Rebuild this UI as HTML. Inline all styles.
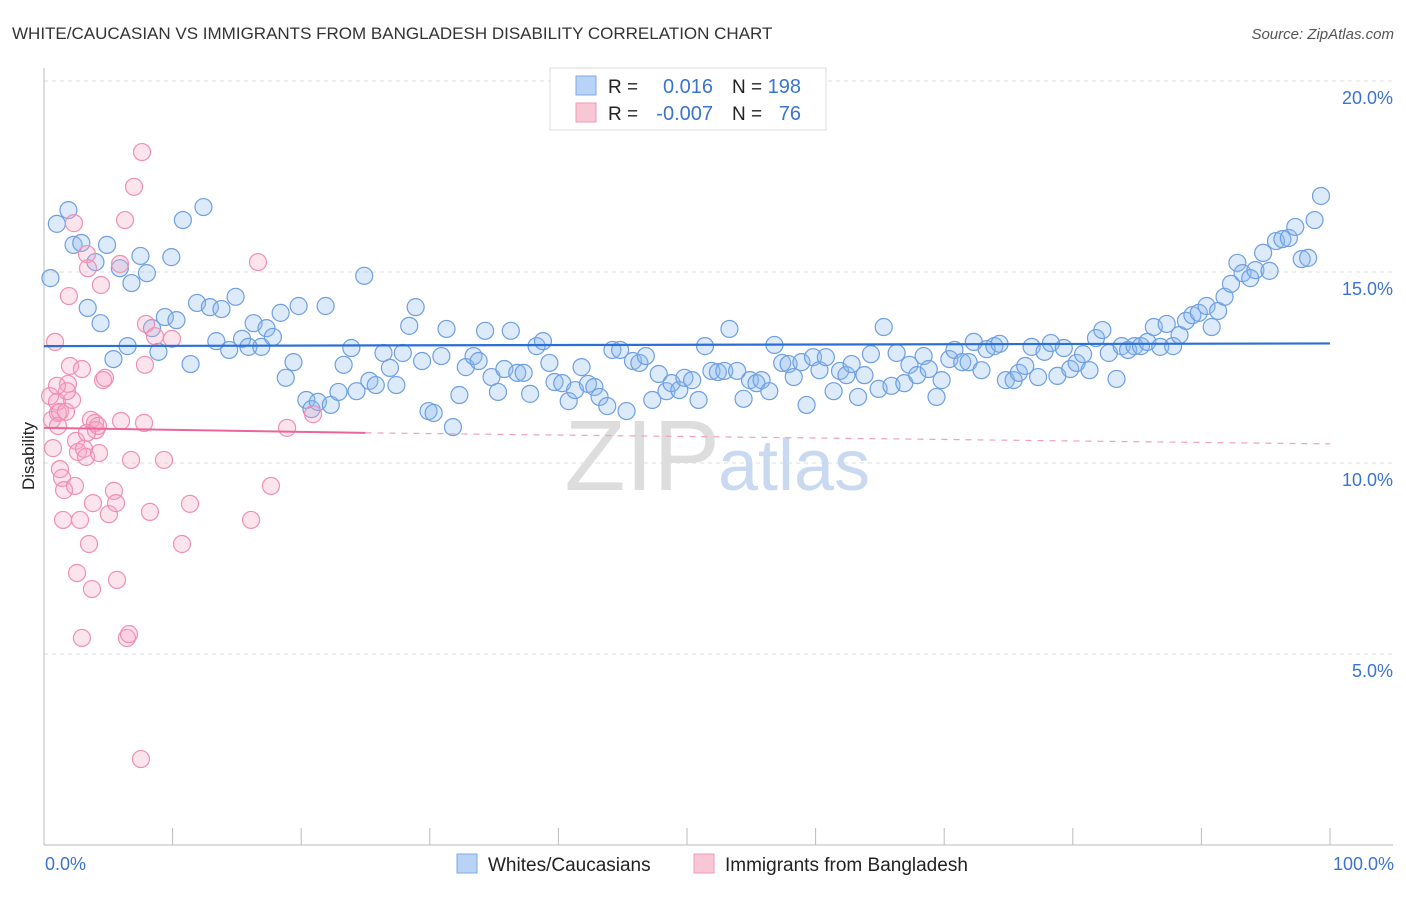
<!DOCTYPE html>
<html><head><meta charset="utf-8"><style>
body{margin:0;background:#fff;font-family:"Liberation Sans",sans-serif}
svg text{font-family:"Liberation Sans",sans-serif}
</style></head><body>
<svg id="chart" width="1406" height="892" viewBox="0 0 1406 892" xmlns="http://www.w3.org/2000/svg">
<text x="12" y="39" font-size="17" fill="#333">WHITE/CAUCASIAN VS IMMIGRANTS FROM BANGLADESH DISABILITY CORRELATION CHART</text>
<text x="1394" y="39" font-size="15" fill="#555" font-style="italic" text-anchor="end">Source: ZipAtlas.com</text>
<g id="grid"></g>
<g id="axes"></g>
<text x="720" y="490" font-size="100" fill="#ddd" text-anchor="end" font-family="Liberation Serif">ZIP</text>
<text x="718" y="490" font-size="72" fill="#c9d9ef">atlas</text>
<g id="pts"></g>
<g id="trend"></g>
<text transform="translate(34,456) rotate(-90)" font-size="17" fill="#222" text-anchor="middle">Disability</text>
<text x="45" y="870" font-size="18" fill="#3b73d0">0.0%</text>
<text x="1394" y="870" font-size="18" fill="#3b73d0" text-anchor="end">100.0%</text>
<g>
<rect x="550" y="68" width="276" height="62" fill="#fff" stroke="#ddd"/>
<rect x="576" y="76" width="20" height="19" fill="#b8d3f5" stroke="#7fa9e6"/>
<rect x="576" y="103" width="20" height="19" fill="#f9c6d6" stroke="#ef9ab7"/>
<text x="608" y="93" font-size="19" fill="#222">R =</text><text x="713" y="93" font-size="20" fill="#3b73d0" text-anchor="end">0.016</text>
<text x="732" y="93" font-size="19" fill="#222">N =</text><text x="801" y="93" font-size="20" fill="#3b73d0" text-anchor="end">198</text>
<text x="608" y="120" font-size="19" fill="#222">R =</text><text x="713" y="120" font-size="20" fill="#3b73d0" text-anchor="end">-0.007</text>
<text x="732" y="120" font-size="19" fill="#222">N =</text><text x="801" y="120" font-size="20" fill="#3b73d0" text-anchor="end">76</text>
</g>
<g>
<rect x="457" y="854" width="20" height="19" fill="#b8d3f5" stroke="#7fa9e6"/>
<text x="488" y="871" font-size="19" fill="#222">Whites/Caucasians</text>
<rect x="694" y="854" width="20" height="19" fill="#f9c6d6" stroke="#ef9ab7"/>
<text x="725" y="871" font-size="19" fill="#222">Immigrants from Bangladesh</text>
</g>
</svg>
<script>
const yTicks=[5,10,15,20];
const yTickLabels=["5.0%","10.0%","15.0%","20.0%"];
const xTicks=[0,10,20,30,40,50,60,70,80,90,100];
const blueX=[0.5,1.0,1.9,2.3,2.9,3.4,4.0,4.4,4.9,5.4,5.9,6.5,6.8,7.5,8.0,8.4,8.9,9.4,9.9,10.3,10.8,11.4,11.9,12.4,12.9,13.4,13.8,14.4,14.9,15.4,15.9,16.3,16.9,17.3,17.8,18.4,18.8,19.4,19.8,20.4,20.8,21.3,21.9,22.3,22.9,23.3,23.9,24.3,24.9,25.3,25.8,26.4,26.9,27.4,27.9,28.4,28.9,29.4,29.9,30.3,30.9,31.3,31.8,32.3,32.8,33.4,33.8,34.3,34.8,35.3,35.8,36.3,36.8,37.3,37.8,38.3,38.8,39.3,39.7,40.3,40.8,41.3,41.8,42.3,42.8,43.2,43.8,44.2,44.8,45.3,45.8,46.3,46.8,47.3,47.8,48.4,48.8,49.4,49.8,50.4,50.9,51.4,51.9,52.4,52.9,53.3,53.9,54.4,54.9,55.4,55.8,56.4,56.8,57.4,57.9,58.3,58.9,59.3,59.8,60.3,60.8,61.4,61.9,62.4,62.8,63.3,63.8,64.3,64.9,65.3,65.9,66.3,66.9,67.3,67.9,68.4,68.8,69.4,69.8,70.4,70.8,71.4,71.9,72.3,72.9,73.3,73.9,74.3,74.8,75.4,75.8,76.3,76.8,77.3,77.8,78.3,78.8,79.3,79.8,80.3,80.8,81.3,81.8,82.3,82.8,83.4,83.8,84.3,84.8,85.3,85.8,86.3,86.8,87.3,87.8,88.3,88.8,89.3,89.8,90.4,90.8,91.3,91.8,92.3,92.8,93.2,93.8,94.2,94.8,95.3,95.8,96.3,96.8,97.3,97.8,98.3,98.8,99.3];
const blueY=[14.84,16.26,16.62,15.71,15.76,14.06,15.26,13.66,15.71,12.72,15.10,13.06,14.71,15.42,14.97,13.53,12.91,13.82,15.39,13.74,16.36,12.59,14.19,16.70,14.08,13.19,14.03,12.96,14.35,13.25,13.04,13.66,13.04,13.53,13.30,13.93,12.23,12.64,14.11,11.65,11.41,11.60,14.11,11.52,11.86,12.57,13.01,11.88,14.90,12.15,12.04,12.88,12.49,12.04,12.88,13.59,14.08,12.67,11.36,11.31,12.80,13.51,10.94,11.78,12.51,12.80,12.67,13.46,12.25,11.86,12.46,13.46,12.36,12.36,11.81,13.06,13.19,12.62,12.12,12.09,11.62,11.91,12.51,12.07,11.99,11.73,11.49,12.96,12.96,11.36,12.67,12.62,12.80,11.65,12.33,11.88,12.09,11.91,12.23,12.17,11.65,13.06,12.41,12.38,12.41,13.51,12.41,11.68,12.17,12.09,12.17,11.88,13.09,12.62,12.59,12.25,12.64,11.52,12.77,12.43,12.77,11.88,12.41,12.30,12.59,11.73,12.30,12.85,11.94,13.56,12.02,12.88,12.09,12.57,12.30,12.80,12.46,11.73,12.17,12.72,12.96,12.64,12.64,13.17,12.43,12.98,13.06,13.12,12.17,12.17,12.36,12.54,13.04,12.25,12.91,13.14,12.28,13.01,12.46,12.62,12.85,12.43,13.27,13.48,12.88,12.20,13.06,12.96,13.06,13.06,13.17,13.56,13.04,13.64,13.06,13.35,13.72,13.87,13.93,14.11,13.56,13.98,14.35,14.69,15.24,14.97,14.84,15.05,15.50,15.03,15.81,15.86,15.89,16.18,15.34,15.37,16.36,16.99];
const pinkX=[0.47,0.62,0.70,0.86,1.01,1.09,1.24,1.40,1.56,1.71,1.87,1.94,2.02,2.18,2.33,2.49,2.57,2.64,2.80,2.95,2.95,3.11,3.27,3.34,3.42,3.50,3.65,3.73,3.81,3.97,4.04,4.28,4.43,4.59,4.74,5.05,5.44,5.60,5.68,5.91,5.99,6.30,6.45,6.61,6.77,7.00,7.62,7.78,7.85,7.93,8.24,8.63,9.33,9.95,10.73,11.35,16.10,16.64,17.65,18.90,20.92,7.54,4.20,3.34,1.48,2.41,1.24,1.09,1.79,1.01];
const pinkY=[11.75,11.13,10.39,13.17,11.60,11.31,11.34,9.61,9.29,11.34,12.07,14.37,12.54,11.65,16.28,10.58,7.12,10.29,8.51,12.46,5.42,10.37,10.16,15.47,15.10,7.88,11.13,6.70,8.95,11.05,10.86,10.26,14.66,12.17,12.23,8.66,9.27,8.95,6.94,15.21,11.10,16.36,5.42,5.52,10.08,17.23,18.14,11.05,12.57,13.64,8.72,13.32,10.08,13.25,7.88,8.93,8.51,15.26,9.40,10.92,11.28,2.25,10.97,10.79,8.51,9.40,9.84,10.97,11.88,12.02];
const blueTrend=[13.06,13.13];
const pinkTrend=[10.92,10.79,10.50];
const pinkSolidEnd=25;
const X0=44,X1=1330,Y0=845,PXPER=38.2;
function sx(v){return X0+(X1-X0)*v/100;}
function sy(v){return Y0-v*PXPER;}
const NS="http://www.w3.org/2000/svg";
function mk(tag,attrs,parent){const e=document.createElementNS(NS,tag);for(const k in attrs)e.setAttribute(k,attrs[k]);parent.appendChild(e);return e;}
const grid=document.getElementById('grid'),axes=document.getElementById('axes');
yTicks.forEach((t,i)=>{
 const l=mk('line',{x1:X0,x2:1393,y1:sy(t),y2:sy(t),stroke:'#ddd','stroke-dasharray':'4,4'},grid);
 
 
 const tx=mk('text',{x:1393,y:sy(t)+23,'font-size':18,fill:'#3b73d0','text-anchor':'end'},grid);
 tx.textContent=yTickLabels[i];
 
 
});
const al=mk('line',{x1:X0,x2:1393,y1:Y0,y2:Y0,stroke:'#bbb'},axes);


const yl=mk('line',{x1:X0,x2:X0,y1:68,y2:Y0,stroke:'#bbb'},axes);


xTicks.forEach(t=>{
 const l=mk('line',{x1:sx(t),x2:sx(t),y1:828,y2:Y0,stroke:'#bbb'},axes);
 
 
});
const pts=document.getElementById('pts');
blueX.forEach((x,i)=>{
 const c=mk('circle',{cx:sx(x),cy:sy(blueY[i]),r:8.5,fill:'rgba(140,185,240,0.3)',stroke:'#6e9fe2','stroke-width':1.2},pts);
 
 
});
pinkX.forEach((x,i)=>{
 const c=mk('circle',{cx:sx(x),cy:sy(pinkY[i]),r:8.5,fill:'rgba(245,165,195,0.3)',stroke:'#ef8fb2','stroke-width':1.2},pts);
 
 
});
const tr=document.getElementById('trend');
const b=mk('line',{x1:sx(0),x2:sx(100),y1:sy(blueTrend[0]),y2:sy(blueTrend[1]),stroke:'#2a6fd6','stroke-width':2.2},tr);


const p1=mk('line',{x1:sx(0),x2:sx(pinkSolidEnd),y1:sy(pinkTrend[0]),y2:sy(pinkTrend[1]),stroke:'#e8669a','stroke-width':2},tr);


const p2=mk('line',{x1:sx(pinkSolidEnd),x2:sx(100),y1:sy(pinkTrend[1]),y2:sy(pinkTrend[2]),stroke:'#f0a0bd','stroke-width':1.2,'stroke-dasharray':'6,6'},tr);


</script>
</body></html>
